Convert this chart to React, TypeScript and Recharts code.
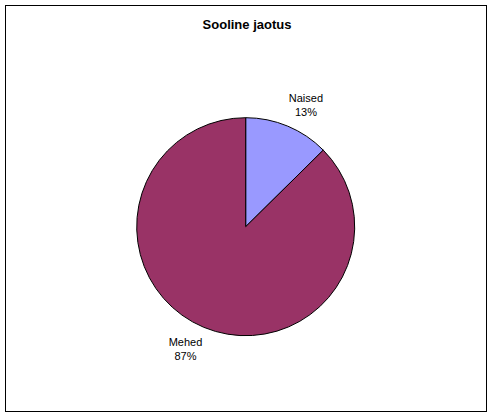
import React from 'react';
import { PieChart, Pie, Cell } from 'recharts';

const categories = ['Naised', 'Mehed'];
const shares = [12.6, 87.4];
const colors = ['#9999FF', '#993366'];

const data = categories.map((name, i) => ({ name, value: shares[i] }));

const RADIAN = Math.PI / 180;

// Excel-style outside labels: name on the first line, percent below
const renderLabel = (props: any) => {
  const { cx, cy, midAngle, outerRadius, name, percent } = props;
  const r = outerRadius + 27;
  const a = (midAngle - 3.6) * RADIAN;
  const x = cx + r * Math.cos(a);
  const y = cy - r * Math.sin(a);
  return (
    <text
      x={x}
      y={y}
      textAnchor="middle"
      fontFamily="'Liberation Sans', Arial, sans-serif"
      fontSize={11}
      fill="#000"
    >
      <tspan x={x} dy={-3}>{name}</tspan>
      <tspan x={x} dy={14.5}>{`${Math.round(percent * 100)}%`}</tspan>
    </text>
  );
};

const App: React.FC = () => {
  return (
    <div
      style={{
        position: 'fixed',
        left: 0,
        top: 0,
        width: 492,
        height: 416,
        background: '#fff',
        fontFamily: "'Liberation Sans', Arial, sans-serif"
      }}
    >
      {/* Chart frame */}
      <div
        style={{
          position: 'absolute',
          left: 5,
          top: 5,
          width: 480,
          height: 405,
          border: '1px solid #000'
        }}
      />
      {/* Title */}
      <div
        style={{
          position: 'absolute',
          left: 0,
          width: 494,
          top: 17,
          textAlign: 'center',
          fontWeight: 'bold',
          fontSize: 13,
          lineHeight: '16px'
        }}
      >
        Sooline jaotus
      </div>
      <div style={{ position: 'absolute', left: 0, top: 0 }}>
        <PieChart width={492} height={416} margin={{ top: 0, right: 0, bottom: 0, left: 0 }}>
          <Pie
            data={data}
            dataKey="value"
            nameKey="name"
            cx={245.7}
            cy={226.7}
            innerRadius={0}
            outerRadius={109}
            startAngle={90}
            endAngle={-270}
            stroke="#000"
            strokeWidth={1}
            label={renderLabel}
            labelLine={false}
            isAnimationActive={false}
          >
            {data.map((entry, index) => (
              <Cell key={`cell-${index}`} fill={colors[index]} />
            ))}
          </Pie>
        </PieChart>
      </div>
    </div>
  );
};

export default App;
